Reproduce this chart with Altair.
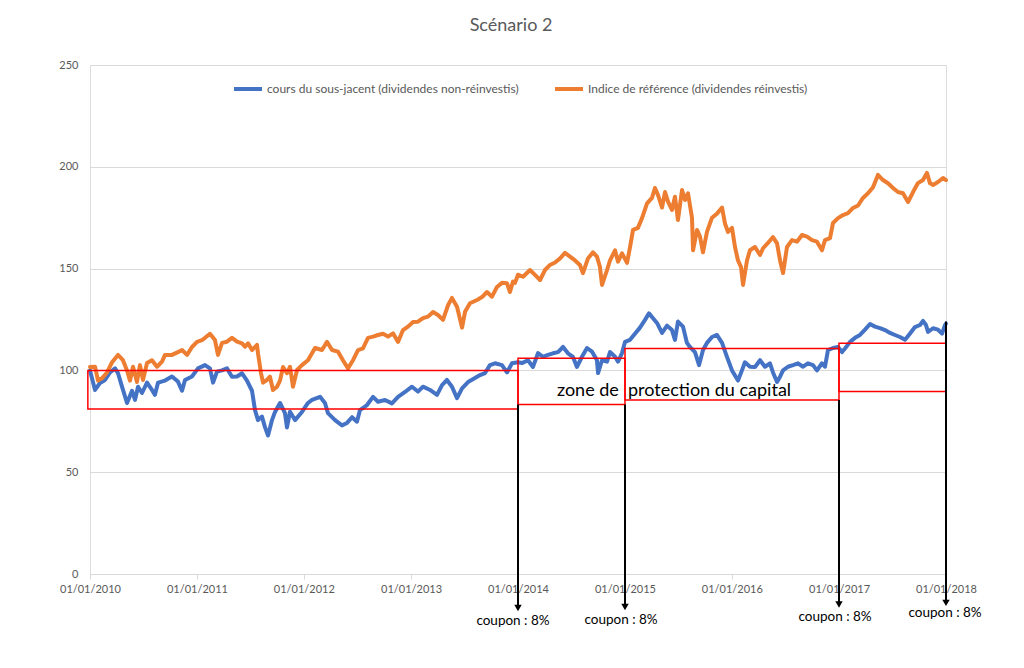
import altair as alt
import pandas as pd

# ---------------- data (years elapsed since 01/01/2010, index level) ----------------
blue_t = [0.000, 0.047, 0.093, 0.140, 0.187, 0.234, 0.262, 0.299, 0.346, 0.393, 0.421, 0.449, 0.486,
          0.533, 0.579, 0.607, 0.636, 0.701, 0.766, 0.822, 0.860, 0.888, 0.953, 1.009, 1.075, 1.121,
          1.150, 1.187, 1.234, 1.280, 1.327, 1.374, 1.421, 1.467, 1.514, 1.542, 1.570, 1.607, 1.636,
          1.664, 1.701, 1.729, 1.776, 1.822, 1.841, 1.869, 1.916, 1.981, 2.037, 2.075, 2.150, 2.196,
          2.224, 2.290, 2.355, 2.402, 2.449, 2.495, 2.523, 2.589, 2.645, 2.692, 2.757, 2.822, 2.879,
          2.944, 3.009, 3.065, 3.112, 3.178, 3.243, 3.290, 3.336, 3.383, 3.430, 3.477, 3.533, 3.598,
          3.645, 3.692, 3.738, 3.785, 3.850, 3.897, 3.944, 4.000, 4.037, 4.093, 4.140, 4.187, 4.234,
          4.280, 4.327, 4.374, 4.421, 4.467, 4.514, 4.551, 4.598, 4.645, 4.692, 4.738, 4.748, 4.785,
          4.832, 4.860, 4.907, 4.935, 4.972, 5.000, 5.047, 5.093, 5.140, 5.187, 5.224, 5.262, 5.299,
          5.346, 5.393, 5.439, 5.467, 5.495, 5.542, 5.579, 5.607, 5.654, 5.692, 5.729, 5.766, 5.813,
          5.860, 5.907, 5.953, 6.000, 6.056, 6.093, 6.121, 6.168, 6.215, 6.262, 6.308, 6.355, 6.383,
          6.421, 6.449, 6.477, 6.523, 6.570, 6.617, 6.664, 6.710, 6.757, 6.794, 6.841, 6.869, 6.897,
          6.944, 6.991, 7.028, 7.056, 7.103, 7.150, 7.196, 7.243, 7.290, 7.336, 7.383, 7.430, 7.477,
          7.523, 7.570, 7.617, 7.664, 7.710, 7.757, 7.785, 7.813, 7.832, 7.879, 7.925, 7.963, 7.991,
          8.000]
blue_v = [100, 90.4, 93.8, 95.3, 99, 101, 98.6, 92, 84, 90, 85.5, 92, 88.9,
          94, 90.4, 88, 94, 95, 97, 94.5, 90, 95.3, 97, 101, 102.6, 101,
          94, 99.4, 100, 101, 96.9, 97, 98.6, 95, 90, 80.5, 75.6, 77.3, 72,
          68, 75.6, 79.6, 84, 79, 72, 79.7, 75.6, 79.6, 84, 85.5, 87, 84,
          79, 75.6, 73, 74.2, 77, 74.8, 80.5, 83, 87, 84.6, 85.5, 83.8, 87,
          89.4, 92, 89.6, 92, 90.4, 88, 92.8, 95.3, 92, 86.4, 91.2, 94.3, 96.3,
          97.7, 98.7, 102.6, 103.5, 102.6, 99, 103.5, 104, 103.6, 105, 101.7, 108.5, 106.7,
          107.6, 108.4, 109, 111.5, 108.4, 106.6, 101.7, 106.7, 111, 109.2, 105, 98.7, 105,
          104.3, 109, 106.7, 104.3, 108.5, 114, 115, 118, 121, 124.8, 128, 125.6, 123.3,
          118.4, 122, 119.8, 115, 124, 121.5, 113.5, 111.5, 109, 102.6, 110, 113.5, 116.4,
          117.4, 113.5, 106.6, 100, 95, 100, 104, 101.8, 101.7, 105, 101.8, 103.5, 99,
          94.3, 96.9, 100, 101.8, 102.6, 103.5, 101.8, 103.5, 102.6, 100, 103.5, 101.8, 110,
          111, 111.5, 109, 110.8, 114, 116, 117.4, 120, 122.8, 121.5, 120.8, 119.8, 118.4,
          117.4, 116.4, 115, 118.1, 121.3, 122.3, 124.3, 122.3, 118.9, 120.7, 120, 118.1, 122.3,
          123]

orange_t = [0.000, 0.047, 0.075, 0.112, 0.159, 0.206, 0.262, 0.308, 0.346, 0.374, 0.402, 0.439, 0.467,
            0.495, 0.533, 0.579, 0.626, 0.673, 0.701, 0.766, 0.822, 0.860, 0.907, 0.953, 1.000, 1.047,
            1.075, 1.121, 1.168, 1.196, 1.234, 1.280, 1.327, 1.374, 1.421, 1.449, 1.477, 1.514, 1.561,
            1.570, 1.598, 1.617, 1.654, 1.682, 1.710, 1.748, 1.776, 1.804, 1.841, 1.869, 1.897, 1.935,
            1.981, 2.037, 2.103, 2.168, 2.215, 2.262, 2.318, 2.364, 2.411, 2.458, 2.505, 2.551, 2.598,
            2.645, 2.692, 2.738, 2.785, 2.832, 2.879, 2.925, 2.972, 3.019, 3.065, 3.112, 3.159, 3.206,
            3.252, 3.299, 3.346, 3.383, 3.430, 3.477, 3.505, 3.551, 3.617, 3.664, 3.710, 3.757, 3.804,
            3.850, 3.897, 3.925, 3.953, 3.972, 4.000, 4.047, 4.112, 4.159, 4.206, 4.252, 4.299, 4.346,
            4.393, 4.439, 4.486, 4.533, 4.579, 4.607, 4.654, 4.701, 4.738, 4.766, 4.785, 4.832, 4.860,
            4.907, 4.935, 4.972, 5.019, 5.047, 5.075, 5.121, 5.159, 5.206, 5.252, 5.280, 5.308, 5.346,
            5.374, 5.402, 5.439, 5.467, 5.495, 5.533, 5.561, 5.589, 5.626, 5.636, 5.673, 5.701, 5.729,
            5.766, 5.813, 5.860, 5.907, 5.935, 5.963, 6.000, 6.028, 6.056, 6.084, 6.103, 6.140, 6.168,
            6.215, 6.262, 6.290, 6.336, 6.383, 6.421, 6.449, 6.477, 6.514, 6.561, 6.607, 6.654, 6.701,
            6.748, 6.794, 6.841, 6.869, 6.916, 6.944, 6.991, 7.037, 7.084, 7.131, 7.178, 7.224, 7.271,
            7.318, 7.364, 7.411, 7.458, 7.505, 7.551, 7.598, 7.645, 7.692, 7.738, 7.785, 7.822, 7.850,
            7.879, 7.925, 7.972, 8.000]
orange_v = [101.7, 101.8, 95, 96.1, 99, 104, 107.6, 105, 100, 95, 101.8, 94.3, 102.6,
            95.3, 103.6, 105, 101.8, 104.3, 107.6, 107.6, 109, 110, 107.6, 111.5, 114, 114.9,
            116, 118, 114.9, 107.6, 113.5, 114.1, 116, 114.1, 113.3, 111.6, 113.3, 110, 112.5,
            108.4, 98.7, 94, 95.3, 96.9, 90.4, 92, 95, 101.7, 98.6, 101.8, 92, 100.2,
            102.6, 105, 111, 110, 114, 110, 109.2, 105, 101, 105, 110, 110.8, 116,
            116.6, 117.4, 118, 116.6, 118.2, 114, 119.8, 121.5, 123.8, 123.9, 125.7, 126.4, 128.7,
            127.2, 124.8, 132, 135.6, 131.3, 121, 128.8, 133, 134.6, 136, 138.5, 136.2, 141,
            143, 142.8, 138.5, 143.6, 143, 147, 146, 149.3, 146.9, 144.4, 149.3, 151.8, 153,
            155, 157.7, 155.9, 154, 151.8, 147.8, 155, 158, 155.9, 150.8, 142, 149.3, 154,
            159, 153.4, 157.5, 152.8, 160.6, 169, 170, 174.8, 182, 184.7, 189.6, 186.2, 180,
            187.6, 182.9, 178.8, 185.3, 173.9, 188.6, 183.7, 187, 175, 159, 169, 165.7, 158,
            168, 175, 177, 180, 172, 168, 170, 160.6, 154, 150.9, 142, 154, 159,
            160.6, 156.7, 160, 162.6, 165.5, 162.4, 154, 147.8, 160.6, 164, 163.2, 166.5, 165.7,
            164, 163.2, 159, 164, 165, 172.4, 174.8, 176.3, 177.2, 179.8, 181, 184.7, 187,
            190, 196, 193.5, 191.9, 189.6, 187.6, 187, 182.7, 187.6, 192, 193.5, 197, 192,
            191.1, 192.5, 194.5, 193.5]

series_names = ["cours du sous-jacent (dividendes non-réinvestis)",
                "Indice de référence (dividendes réinvestis)"]
series_colors = ["#4472C4", "#ED7D31"]

# protection zones: start, end (years since 2010), upper, lower level
zone_start = [-0.02, 4.0, 5.0, 7.0]
zone_end = [4.0, 5.0, 7.0, 8.0]
zone_top = [100, 106, 110.8, 113.3]
zone_bottom = [81, 83.3, 85.5, 89.6]

# coupon arrows
arrow_t = [4.0, 5.0, 7.0, 8.0]
arrow_from = [83.3, 83.3, 85.5, 124]
arrow_head = [-16.7, -16.2, -15.0, -14.2]
coupon_t = [3.953, 4.963, 6.963, 7.991]
coupon_y = [-23.1, -22.6, -21.1, -19.2]
coupon_text = ["coupon : 8%"] * 4

zone_label_t = [4.364, 5.028]
zone_label_y = [90.0, 90.0]
zone_label_text = ["zone de", "protection du capital"]

year_ticks = [pd.Timestamp(f"{y}-01-01") for y in range(2010, 2019)]
FONT = "Lato"
GREY = "#595959"


def to_date(offsets):
    base = pd.Timestamp("2010-01-01")
    return [base + pd.Timedelta(days=o * 365.25) for o in offsets]


lines = pd.concat([
    pd.DataFrame({"date": to_date(blue_t), "value": blue_v, "serie": series_names[0], "o": 0}),
    pd.DataFrame({"date": to_date(orange_t), "value": orange_v, "serie": series_names[1], "o": 1}),
])
zones = pd.DataFrame({"x": to_date(zone_start), "x2": to_date(zone_end),
                      "y": zone_top, "y2": zone_bottom})
arrows = pd.DataFrame({"x": to_date(arrow_t), "y": arrow_from, "y2": arrow_head})
coupons = pd.DataFrame({"x": to_date(coupon_t), "y": coupon_y, "t": coupon_text})
zlabels = pd.DataFrame({"x": to_date(zone_label_t), "y": zone_label_y, "t": zone_label_text})

xscale = alt.Scale(domain=[year_ticks[0].isoformat(), year_ticks[-1].isoformat()], nice=False)
yscale = alt.Scale(domain=[0, 250], nice=False)

line_chart = alt.Chart(lines).mark_line(strokeWidth=4, strokeJoin="round", strokeCap="round").encode(
    x=alt.X("date:T", scale=xscale, title=None,
            axis=alt.Axis(values=[d.isoformat() for d in year_ticks], format="%d/%m/%Y",
                          labelColor=GREY, labelFontSize=11, labelFont=FONT, labelFlush=False,
                          domainColor="#D9D9D9", tickColor="#D9D9D9", tickSize=5,
                          labelPadding=4, grid=False, labelOverlap=False)),
    y=alt.Y("value:Q", scale=yscale, title=None,
            axis=alt.Axis(values=[0, 50, 100, 150, 200, 250], domain=False, ticks=False,
                          labelColor=GREY, labelFontSize=11, labelFont=FONT, labelPadding=12,
                          gridColor="#D9D9D9", gridWidth=1)),
    color=alt.Color("serie:N", scale=alt.Scale(domain=series_names, range=series_colors),
                    legend=alt.Legend(title=None, orient="none", direction="horizontal",
                                      legendX=142, legendY=8, symbolType="stroke",
                                      symbolStrokeWidth=4, symbolSize=784, labelFont=FONT,
                                      labelFontSize=12, labelColor=GREY, labelOffset=3,
                                      labelLimit=0, columnPadding=28)),
    order="o:Q",
    detail="serie:N",
)

zone_chart = alt.Chart(zones).mark_rect(fillOpacity=0, stroke="#FF0000", strokeWidth=1.5, clip=False).encode(
    x="x:T", x2="x2:T", y="y:Q", y2="y2:Q")

arrow_chart = alt.Chart(arrows).mark_rule(color="black", strokeWidth=2, clip=False).encode(
    x="x:T", y="y:Q", y2="y2:Q")
head_chart = alt.Chart(arrows).mark_point(shape="triangle-down", filled=True, color="black",
                                          opacity=1, size=55, clip=False).encode(
    x="x:T", y="y2:Q")
coupon_chart = alt.Chart(coupons).mark_text(font=FONT, fontSize=13.5, color="black",
                                            baseline="middle", align="center").encode(
    x="x:T", y="y:Q", text="t:N")
zlabel_chart = alt.Chart(zlabels).mark_text(font=FONT, fontSize=18, color="black",
                                            baseline="middle", align="left").encode(
    x="x:T", y="y:Q", text="t:N")

chart = alt.layer(line_chart, zone_chart, arrow_chart, head_chart, coupon_chart, zlabel_chart).properties(
    width=856, height=509,
    title=alt.TitleParams("Scénario 2", font=FONT, fontSize=18, fontWeight="normal", color=GREY,
                          anchor="middle", offset=24, dx=-7),
    autosize=alt.AutoSizeParams(type="none"),
    padding={"left": 82, "top": 57, "right": 70, "bottom": 80},
).configure_view(stroke=None).configure(background="white")

chart.save("out.html", embed_options={"renderer": "svg", "actions": False})
